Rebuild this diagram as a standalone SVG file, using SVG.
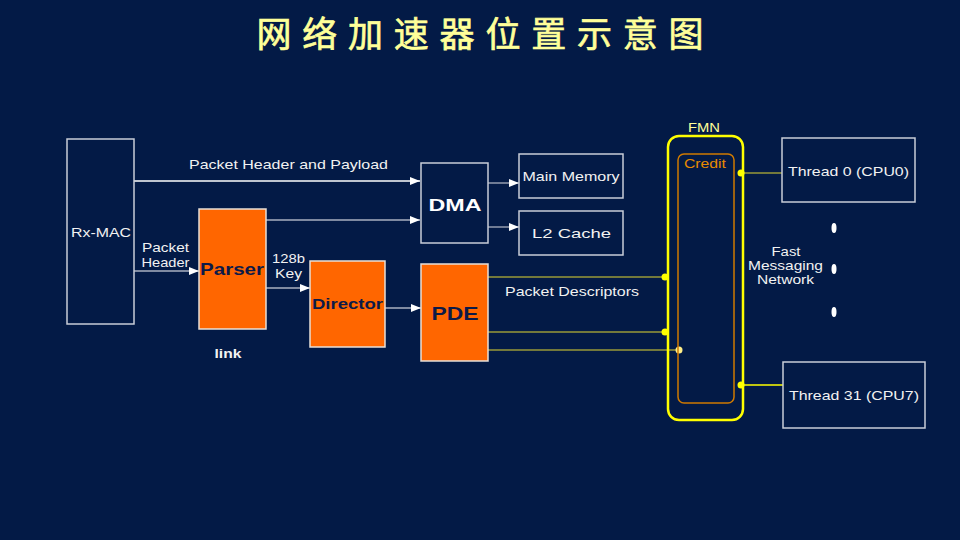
<svg xmlns="http://www.w3.org/2000/svg" width="960" height="540" viewBox="0 0 960 540">
<defs>
<marker id="arr" viewBox="0 0 10 8" refX="10" refY="4" markerWidth="10" markerHeight="8" markerUnits="userSpaceOnUse" orient="auto">
<path d="M0,0 L10,4 L0,8 Z" fill="#ffffff"/>
</marker>
<style>
.t{font-family:"Liberation Sans",Arial,sans-serif;font-size:13.5px;fill:#f2f2f2;text-anchor:middle}
.b{font-family:"Liberation Sans",Arial,sans-serif;font-weight:bold;text-anchor:middle}
.box{fill:none;stroke:#c9cdd8;stroke-width:1.5}
.obox{fill:#ff6600;stroke:#e8e0d8;stroke-width:1.5}
.w{stroke:#ffffff;stroke-width:1.3;fill:none}
.g{stroke:#aab0c0;stroke-width:1.3;fill:none}
.o{stroke:#9a9a38;stroke-width:1.3;fill:none}
.dot{fill:#ffff00}
</style>
</defs>
<rect x="0" y="0" width="960" height="540" fill="#031a46"/>
<text x="480" y="47" font-family="'Noto Sans CJK SC',sans-serif" font-size="35" fill="#ffff99" stroke="#ffff99" stroke-width="0.7" text-anchor="middle" textLength="447">网络加速器位置示意图</text>

<g id="connectors">
<line class="w" x1="134" y1="181" x2="420" y2="181" marker-end="url(#arr)"/>
<line class="g" x1="266" y1="220" x2="420" y2="220" marker-end="url(#arr)"/>
<line class="g" x1="134" y1="271" x2="199" y2="271" marker-end="url(#arr)"/>
<line class="g" x1="266" y1="288" x2="310" y2="288" marker-end="url(#arr)"/>
<line class="g" x1="385" y1="308" x2="421" y2="308" marker-end="url(#arr)"/>
<line class="g" x1="488" y1="183" x2="519" y2="183" stroke-width="2.2" marker-end="url(#arr)"/>
<line class="g" x1="488" y1="227" x2="519" y2="227" marker-end="url(#arr)"/>
<line class="o" x1="488" y1="277" x2="665" y2="277"/>
<line class="o" x1="488" y1="332" x2="665" y2="332"/>
<line class="o" x1="488" y1="350" x2="679" y2="350"/>
<line class="o" x1="741" y1="173" x2="782" y2="173"/>
<line x1="741" y1="385" x2="783" y2="385" stroke="#ffff00" stroke-width="1.5"/>
<circle class="dot" cx="665" cy="277" r="3.5"/>
<circle class="dot" cx="665" cy="332" r="3.5"/>
<circle cx="679" cy="350" r="3.5" fill="#ffee88"/>
<circle class="dot" cx="741" cy="173" r="3.5"/>
<circle class="dot" cx="741" cy="385" r="3.5"/>
<text class="t" x="288.5" y="169" textLength="199" lengthAdjust="spacingAndGlyphs">Packet Header and Payload</text>
<text class="t" x="165.5" y="252" textLength="47" lengthAdjust="spacingAndGlyphs">Packet</text>
<text class="t" x="165.5" y="267" textLength="48" lengthAdjust="spacingAndGlyphs">Header</text>
<text class="t" x="288.5" y="263" textLength="33" lengthAdjust="spacingAndGlyphs">128b</text>
<text class="t" x="288.5" y="278" textLength="27" lengthAdjust="spacingAndGlyphs">Key</text>
<text class="t" x="572" y="296" textLength="134" lengthAdjust="spacingAndGlyphs">Packet Descriptors</text>
</g>

<g id="rxmac">
<rect class="box" x="67" y="139" width="67" height="185"/>
<text class="t" x="101" y="237" textLength="60" lengthAdjust="spacingAndGlyphs">Rx-MAC</text>
</g>
<g id="parser">
<rect class="obox" x="199" y="209" width="67" height="120"/>
<text class="b" x="232" y="275" font-size="16.5" fill="#0c1a48" textLength="64" lengthAdjust="spacingAndGlyphs">Parser</text>
</g>
<g id="link">
<text class="b" x="228" y="358" font-size="13" fill="#f2f2f2" textLength="27" lengthAdjust="spacingAndGlyphs">link</text>
</g>
<g id="director">
<rect class="obox" x="310" y="261" width="75" height="86"/>
<text class="b" x="347.5" y="309" font-size="14" fill="#0c1a48" textLength="71" lengthAdjust="spacingAndGlyphs">Director</text>
</g>
<g id="dma">
<rect class="box" x="421" y="163" width="67" height="80"/>
<text class="b" x="455" y="211" font-size="17" fill="#ffffff" textLength="53" lengthAdjust="spacingAndGlyphs">DMA</text>
</g>
<g id="mainmem">
<rect class="box" x="519" y="154" width="104" height="44"/>
<text class="t" x="571" y="181" textLength="97" lengthAdjust="spacingAndGlyphs">Main Memory</text>
</g>
<g id="l2cache">
<rect class="box" x="519" y="211" width="104" height="44"/>
<text class="t" x="571.5" y="238" font-size="14.5" textLength="79" lengthAdjust="spacingAndGlyphs">L2 Cache</text>
</g>
<g id="pde">
<rect class="obox" x="421" y="264" width="67" height="97"/>
<text class="b" x="455" y="320" font-size="18.5" fill="#0c1a48" textLength="47" lengthAdjust="spacingAndGlyphs">PDE</text>
</g>
<g id="fmn">
<rect x="668" y="136" width="75" height="284" rx="11" ry="11" fill="none" stroke="#ffff00" stroke-width="2.5"/>
<text class="t" x="704" y="132" style="fill:#ffff99" textLength="32" lengthAdjust="spacingAndGlyphs">FMN</text>
</g>
<g id="credit">
<rect x="678" y="154" width="56" height="249" rx="6" ry="6" fill="none" stroke="#d07a00" stroke-width="1.5"/>
<text class="t" x="705" y="168" style="fill:#e88a00" textLength="42" lengthAdjust="spacingAndGlyphs">Credit</text>
</g>
<g id="fmn-label">
<text class="t" x="786" y="256" textLength="29" lengthAdjust="spacingAndGlyphs">Fast</text>
<text class="t" x="785.5" y="270" textLength="75" lengthAdjust="spacingAndGlyphs">Messaging</text>
<text class="t" x="785.5" y="284" textLength="57" lengthAdjust="spacingAndGlyphs">Network</text>
</g>
<g id="thread0">
<rect class="box" x="782" y="138" width="133" height="64"/>
<text class="t" x="848.5" y="176" textLength="121" lengthAdjust="spacingAndGlyphs">Thread 0 (CPU0)</text>
</g>
<g id="ellipsis">
<ellipse cx="834" cy="228" rx="2.5" ry="5" fill="#ffffff"/>
<ellipse cx="834" cy="269" rx="2.5" ry="5" fill="#ffffff"/>
<ellipse cx="834" cy="312" rx="2.5" ry="5" fill="#ffffff"/>
</g>
<g id="thread31">
<rect class="box" x="783" y="362" width="142" height="66"/>
<text class="t" x="854" y="400" textLength="130" lengthAdjust="spacingAndGlyphs">Thread 31 (CPU7)</text>
</g>
</svg>
